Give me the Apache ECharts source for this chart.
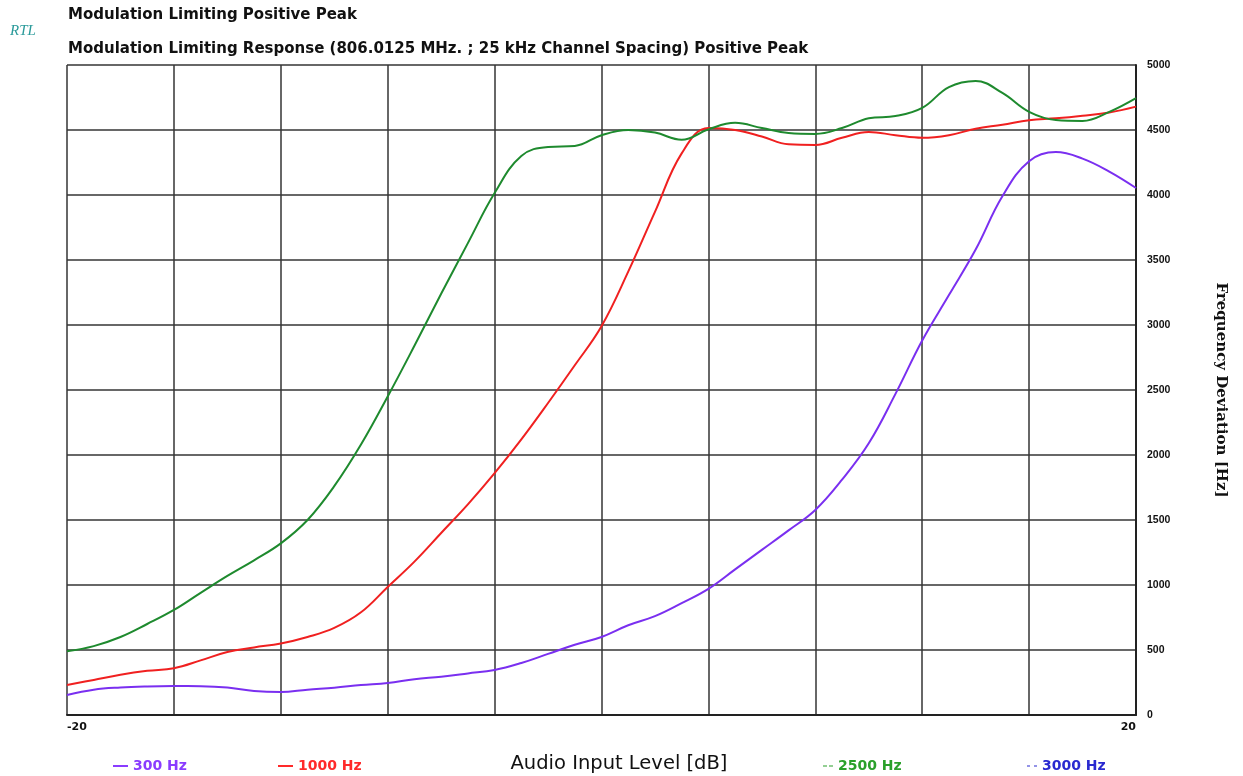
<!DOCTYPE html>
<html><head><meta charset="utf-8">
<script src="https://cdn.jsdelivr.net/npm/echarts@6/dist/echarts.min.js"></script>
<style>html,body{margin:0;padding:0;background:#fff}#c{width:1243px;height:776px}</style>
</head><body><div id="c"></div>
<script>
const levels = [-20,-19,-18,-17,-16,-15,-14,-13,-12,-11,-10,-9,-8,-7,-6,-5,-4,-3,-2,-1,0,1,2,3,4,5,6,7,8,9,10,11,12,13,14,15,16,17,18,19,20];
const hz300  = [154,195,212,220,223,222,212,185,177,195,210,230,246,275,295,320,346,400,470,540,600,690,760,860,970,1120,1270,1420,1577,1810,2090,2470,2880,3230,3580,3990,4260,4330,4280,4180,4054];
const hz1000 = [230,270,310,340,360,420,485,520,550,600,670,790,985,1180,1400,1620,1860,2120,2400,2690,2990,3410,3870,4320,4515,4500,4450,4390,4385,4440,4485,4460,4440,4460,4510,4540,4575,4590,4610,4635,4680];
const hz2500 = [490,530,600,700,808,940,1070,1190,1320,1500,1760,2080,2450,2840,3240,3630,4015,4300,4370,4377,4460,4500,4480,4425,4505,4555,4515,4477,4470,4515,4590,4607,4670,4830,4877,4785,4640,4577,4570,4640,4746];
const hz3000 = [];
const yTicks = [0,500,1000,1500,2000,2500,3000,3500,4000,4500,5000];
const xTickLabels = {'-20':'-20','20':'20'};

const pair = (ys) => ys.map((y,i)=>[levels[i],y]);
const chart = echarts.init(document.getElementById('c'));
const SANS = 'DejaVu Sans, Verdana, sans-serif';
const ARIAL = 'Liberation Sans, Arial, sans-serif';
const legendItem = (name, left, icon, w) => ({data:[name], left:left, top:754, itemWidth:w, itemHeight:2, icon:icon, selectedMode:false,
  textStyle:{fontFamily:SANS, fontWeight:'bold', fontSize:14, color:'inherit'}});
chart.setOption({
  animation:false,
  backgroundColor:'#fff',
  title:[
    {text:'Modulation Limiting Positive Peak', left:63, top:3, textStyle:{fontFamily:SANS, fontWeight:'bold', fontSize:15, color:'#111'}},
    {text:'Modulation Limiting Response (806.0125 MHz. ; 25 kHz Channel Spacing) Positive Peak', left:63, top:37, textStyle:{fontFamily:SANS, fontWeight:'bold', fontSize:15, color:'#111'}},
    {text:'RTL', left:5, top:19, textStyle:{fontFamily:'Liberation Serif, serif', fontStyle:'italic', fontWeight:'normal', fontSize:15, color:'#2a9a9a'}}
  ],
  graphic:[
    {type:'text', x:619, y:764, style:{text:'Audio Input Level [dB]', fontFamily:SANS, fontSize:19.5, fill:'#111', align:'center', verticalAlign:'middle'}}
  ],
  grid:{left:67, right:107, top:65, bottom:61, containLabel:false},
  legend:[
    legendItem('300 Hz', 108, 'rect', 15),
    legendItem('1000 Hz', 273, 'rect', 15),
    legendItem('2500 Hz', 818, 'path://M0,0h4v1h-4zM6,0h4v1h-4z', 10),
    legendItem('3000 Hz', 1022, 'path://M0,0h3v1h-3zM7,0h3v1h-3z', 10)
  ],
  xAxis:{
    type:'value', min:-20, max:20, interval:4,
    axisLine:{show:true, onZero:false, lineStyle:{color:'#222', width:2}},
    axisTick:{show:false},
    axisLabel:{fontFamily:SANS, fontWeight:'bold', fontSize:11, color:'#111', margin:7, formatter:v=>xTickLabels[String(v)]||'', alignMinLabel:'left', alignMaxLabel:'right'},
    splitLine:{show:true, lineStyle:{color:'#353535', width:1.5}}
  },
  yAxis:{
    type:'value', position:'right', min:0, max:5000, interval:500,
    name:'Frequency Deviation [Hz]', nameLocation:'middle', nameRotate:-90, nameGap:77,
    nameTextStyle:{fontFamily:'DejaVu Serif, serif', fontSize:15, fontWeight:'bold', color:'#111'},
    axisLine:{show:true, onZero:false, lineStyle:{color:'#222', width:2}},
    axisTick:{show:false},
    axisLabel:{fontFamily:ARIAL, fontWeight:'bold', fontSize:10.5, color:'#111', margin:11, formatter:v=>yTicks.includes(v)?String(v):''},
    splitLine:{show:true, lineStyle:{color:'#353535', width:1.5}}
  },
  series:[
    {name:'300 Hz', type:'line', data:pair(hz300), smooth:0.4, symbol:'none', lineStyle:{color:'#7a2ff0', width:2}, itemStyle:{color:'#8a3cff'}, z:3},
    {name:'1000 Hz', type:'line', data:pair(hz1000), smooth:0.4, symbol:'none', lineStyle:{color:'#f02020', width:2}, itemStyle:{color:'#ff2a2a'}, z:3},
    {name:'2500 Hz', type:'line', data:pair(hz2500), smooth:0.4, symbol:'none', lineStyle:{color:'#1e8a2e', width:2}, itemStyle:{color:'#2aa02a'}, z:3},
    {name:'3000 Hz', type:'line', data:pair(hz3000), smooth:0.4, symbol:'none', lineStyle:{color:'#2020d0', width:2}, itemStyle:{color:'#2a2ad0'}, z:3}
  ]
});
</script></body></html>
